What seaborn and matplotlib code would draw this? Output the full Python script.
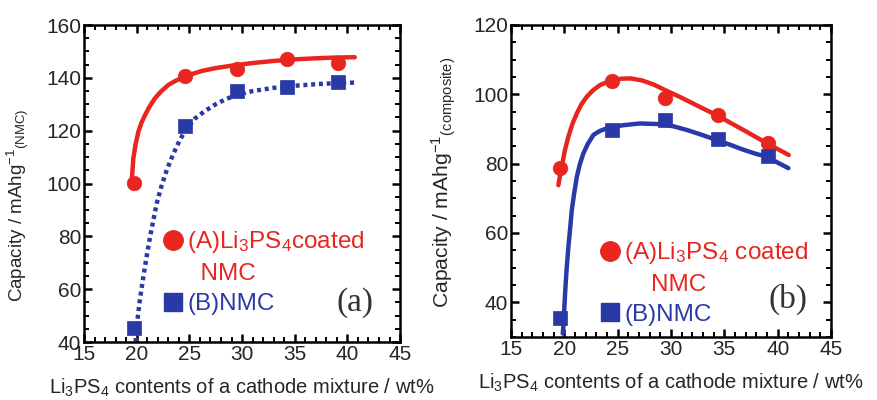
import matplotlib
matplotlib.use("Agg")
import matplotlib.pyplot as plt
from matplotlib.ticker import MultipleLocator, AutoMinorLocator
from matplotlib.lines import Line2D
import seaborn as sns

# ---------------- data ----------------
# Panel (a): capacity per NMC
a_x = [19.7, 24.6, 29.5, 34.3, 39.1]
a_coated = [100.3, 140.6, 143.5, 147.2, 145.7]
a_bare = [45.2, 121.6, 135.0, 136.5, 138.6]

# fitted curves
a_fit_coated_x = [19.53, 19.58, 19.68, 19.9, 20.16, 20.45, 20.79, 21.2, 21.74, 22.3, 23.0, 23.7,
                  24.43, 25.3, 26.18, 27.5, 29.0, 31.0, 33.0, 35.0, 37.0, 39.0, 40.7]
a_fit_coated_y = [100.0, 104.0, 109.5, 115.0, 119.6, 123.0, 125.9, 129.0, 132.3, 134.8, 137.3,
                  138.9, 140.1, 141.5, 142.6, 143.7, 144.6, 145.6, 146.4, 147.0, 147.4, 147.7,
                  147.8]
a_fit_bare_x = [19.9, 20.0, 20.3, 20.63, 20.95, 21.27, 21.6, 21.9, 22.35, 22.85, 23.45, 24.1,
                24.6, 25.5, 26.5, 27.5, 28.5, 29.5, 31.0, 33.0, 35.0, 37.0, 39.0, 40.7]
a_fit_bare_y = [40.0, 46.0, 56.0, 64.7, 72.5, 79.9, 86.5, 92.5, 99.0, 105.1, 111.0, 116.5,
                120.0, 124.5, 127.5, 130.0, 132.0, 133.5, 135.0, 136.2, 137.0, 137.6, 138.0,
                138.2]

# Panel (b): capacity per composite
b_x = [19.6, 24.5, 29.4, 34.4, 39.1]
b_coated = [78.8, 103.8, 98.8, 94.0, 86.0]
b_bare = [35.4, 89.6, 92.7, 87.2, 82.3]

b_fit_coated_x = [19.44, 19.6, 19.76, 20.05, 20.38, 20.75, 21.17, 21.6, 22.1, 22.7, 23.36,
                  24.46, 25.3, 26.2, 27.3, 28.4, 29.6, 30.8, 32.1, 33.2, 34.3, 35.5, 36.8,
                  38.0, 39.0, 40.0, 41.04]
b_fit_coated_y = [73.8, 76.6, 79.1, 83.8, 87.8, 91.4, 94.5, 97.1, 99.3, 101.2, 102.7, 104.1,
                  104.5, 104.6, 104.0, 102.8, 101.0, 99.3, 97.3, 95.6, 94.0, 91.9, 89.7, 87.6,
                  85.9, 84.2, 82.5]
b_fit_bare_x = [19.85, 19.91, 20.07, 20.2, 20.38, 20.55, 20.7, 20.9, 21.17, 21.45, 21.79, 22.2,
                22.73, 23.3, 23.99, 24.7, 25.54, 27.1, 29.0, 30.2, 31.5, 32.9, 34.3, 35.5,
                36.8, 38.0, 39.0, 40.0, 41.0]
b_fit_bare_y = [31.0, 33.0, 42.6, 49.0, 56.0, 61.5, 66.6, 71.0, 76.2, 79.8, 83.0, 85.7, 88.3,
                89.4, 90.2, 90.7, 91.1, 91.6, 91.4, 90.8, 89.7, 88.3, 86.8, 85.5, 84.0, 82.8,
                82.0, 80.3, 78.7]

labels_a = ["(A)Li$_3$PS$_4$coated", "  NMC", "(B)NMC"]
labels_b = ["(A)Li$_3$PS$_4$ coated", "    NMC", "(B)NMC"]
xlabel = "Li$_3$PS$_4$ contents of a cathode mixture / wt%"
ylabel_a = "Capacity / mAhg$^{-1}$$_{\\rm (NMC)}$"
ylabel_b = "Capacity / mAhg$^{-1}$$_{\\rm (composite)}$"

RED = "#e8261f"
BLUE = "#2a39a8"

# ---------------- style ----------------
sns.set_theme(style="ticks")
plt.rcParams["font.family"] = ["Liberation Sans", "DejaVu Sans"]
plt.rcParams["mathtext.fontset"] = "custom"
plt.rcParams["mathtext.rm"] = "Liberation Sans"
plt.rcParams["mathtext.it"] = "Liberation Sans:italic"
plt.rcParams["mathtext.bf"] = "Liberation Sans:bold"

fig = plt.figure(figsize=(8.78, 4.0), dpi=100)
ax_a = fig.add_axes([0.0957, 0.145, 0.36, 0.7925])
ax_b = fig.add_axes([0.582, 0.1575, 0.3645, 0.78])


def style_axes(ax, ymin, ymax, ymajor):
    ax.set_xlim(15, 45)
    ax.set_ylim(ymin, ymax)
    ax.xaxis.set_major_locator(MultipleLocator(5))
    ax.xaxis.set_minor_locator(AutoMinorLocator(5))
    ax.yaxis.set_major_locator(MultipleLocator(ymajor))
    ax.yaxis.set_minor_locator(AutoMinorLocator(4))
    ax.tick_params(which="both", direction="in", top=True, right=True, color="black")
    ax.tick_params(which="major", length=6, width=1.8, labelsize=15, pad=2)
    ax.tick_params(which="minor", length=3.5, width=1.4)
    for sp in ax.spines.values():
        sp.set_linewidth(1.8)
        sp.set_color("black")
    ax.set_xlabel(xlabel, fontsize=14.5, labelpad=9)


# ---------- panel (a) ----------
sns.lineplot(x=a_fit_coated_x, y=a_fit_coated_y, ax=ax_a, color=RED, lw=3.2,
             sort=False, estimator=None)
sns.lineplot(x=a_fit_bare_x, y=a_fit_bare_y, ax=ax_a, color=BLUE, lw=3.2,
             sort=False, estimator=None, linestyle=(0, (0.9, 0.85)))
sns.scatterplot(x=a_x, y=a_coated, ax=ax_a, color=RED, s=110, marker="o",
                edgecolor=RED, linewidth=0.5, zorder=5)
sns.scatterplot(x=a_x, y=a_bare, ax=ax_a, color=BLUE, s=110, marker="s",
                edgecolor=BLUE, linewidth=0.5, zorder=5)
style_axes(ax_a, 40, 160, 20)
ax_a.set_ylabel(ylabel_a, fontsize=13.5, loc="bottom")
ax_a.yaxis.set_label_coords(-0.168, 0.126)
ax_a.text(0.858, 0.123, "(a)", transform=ax_a.transAxes, fontsize=24,
          family="Liberation Serif", ha="center", va="center", color="#333333")

# ---------- panel (b) ----------
sns.lineplot(x=b_fit_coated_x, y=b_fit_coated_y, ax=ax_b, color=RED, lw=3.2,
             sort=False, estimator=None)
sns.lineplot(x=b_fit_bare_x, y=b_fit_bare_y, ax=ax_b, color=BLUE, lw=3.2,
             sort=False, estimator=None)
sns.scatterplot(x=b_x, y=b_coated, ax=ax_b, color=RED, s=110, marker="o",
                edgecolor=RED, linewidth=0.5, zorder=5)
sns.scatterplot(x=b_x, y=b_bare, ax=ax_b, color=BLUE, s=110, marker="s",
                edgecolor=BLUE, linewidth=0.5, zorder=5)
style_axes(ax_b, 30, 120, 20)
ax_b.set_ylabel(ylabel_b, fontsize=15.2, loc="bottom")
ax_b.yaxis.set_label_coords(-0.165, 0.093)
ax_b.text(0.866, 0.119, "(b)", transform=ax_b.transAxes, fontsize=24,
          family="Liberation Serif", ha="center", va="center", color="#333333")


def add_legend(ax, labels, anchor):
    handles = [Line2D([], [], marker="o", ls="none", color=RED, markersize=14),
               Line2D([], [], ls="none"),
               Line2D([], [], marker="s", ls="none", color=BLUE, markersize=12.5)]
    leg = ax.legend(handles, labels, loc="upper left", bbox_to_anchor=anchor,
                    frameon=False, fontsize=17.5, handletextpad=0.18, handlelength=0.8,
                    labelspacing=0.32, borderpad=0, borderaxespad=0)
    for t, c in zip(leg.get_texts(), [RED, RED, BLUE]):
        t.set_color(c)
    return leg


add_legend(ax_a, labels_a, (0.251, 0.355))
add_legend(ax_b, labels_b, (0.279, 0.31))

fig.savefig("out.png", dpi=100)
